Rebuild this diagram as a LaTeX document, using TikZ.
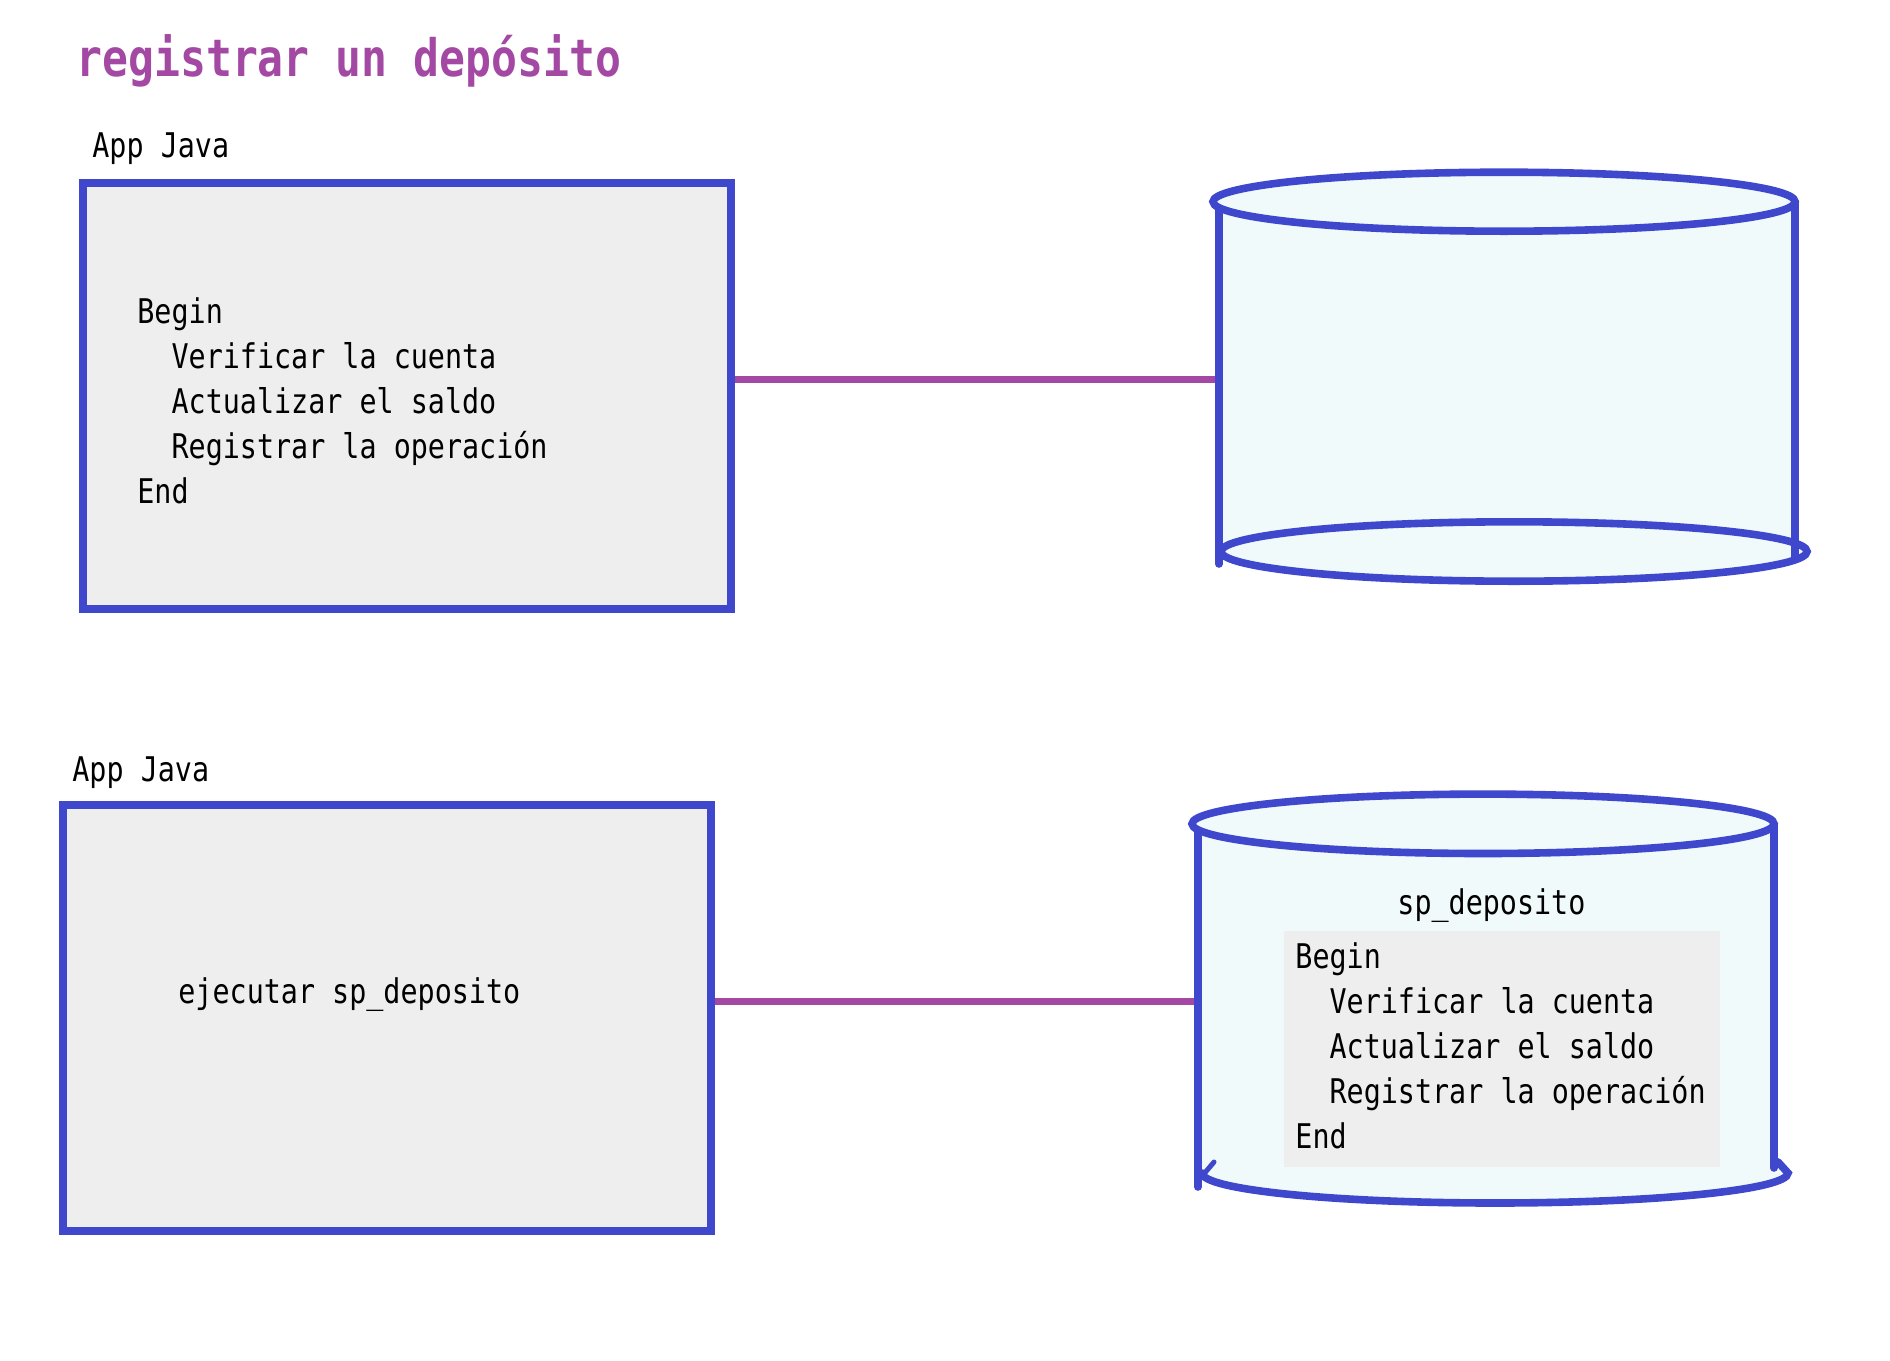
\documentclass[tikz,border=0pt]{standalone}
\usepackage{fontspec}
\newfontfamily\codefont[FakeStretch=0.835]{DejaVu Sans Mono}
\definecolor{boxblue}{RGB}{63,72,204}
\definecolor{linkpurple}{RGB}{163,73,164}
\definecolor{boxgray}{RGB}{238,238,238}
\definecolor{dbcyan}{RGB}{240,250,251}
\newcommand\ind{\hphantom{xx}}

\begin{document}
\begin{tikzpicture}[x=0.5pt,y=-0.5pt,
    appbox/.style={draw=boxblue,fill=boxgray,line width=4pt,minimum width=324pt,minimum height=213pt,inner sep=0pt},
    link/.style={draw=linkpurple,line width=3.5pt},
    dbline/.style={draw=boxblue,line width=3.8pt,line cap=round},
    dbfill/.style={fill=dbcyan},
    code/.style={font=\codefont\fontsize{17}{22.5}\selectfont,anchor=base west,inner sep=0pt},
    titletext/.style={font=\codefont\fontsize{25.8}{30}\selectfont\bfseries,text=linkpurple,anchor=base west,inner sep=0pt}]

    \useasboundingbox (0,0) rectangle (1890,1360);

    % titulo
    \node[titletext] (title) at (76,76) {registrar un depósito};

    % arriba: la app hace todo
    \node[code]   (appA) at (92,157) {App Java};
    \node[appbox] (boxA) at (407,396) {};
    \node[code]   (codeA) at (137,323) {\begin{tabular}[t]{@{}l@{}}Begin\\ \ind Verificar la cuenta\\ \ind Actualizar el saldo\\ \ind Registrar la operación\\ End\end{tabular}};

    % abajo: la app llama al procedimiento
    \node[code]   (appB) at (72,781) {App Java};
    \node[appbox] (boxB) at (387,1018) {};
    \node[code]   (callB) at (178,1003) {ejecutar sp\_deposito};

    % conexiones
    \coordinate (dbAw) at (1219,379);
    \coordinate (dbBw) at (1198,1001);
    \draw[link] (dbAw -| boxA.east) -- (dbAw);
    \draw[link] (dbBw -| boxB.east) -- (dbBw);

    % base de datos 1
    \fill[dbfill] (1219,201.7) rectangle (1795,551.5);
    \fill[dbfill] (1514,551.5) ellipse [x radius=293, y radius=29.7];
    \draw[dbline] (1219,201.7) -- (1219,564);
    \draw[dbline] (1795,201.7) -- (1795,557);
    \draw[dbline,dbfill] (1504,201.7) ellipse [x radius=291, y radius=29.5];
    \draw[dbline] (1514,551.5) ellipse [x radius=293, y radius=29.7];

    % base de datos 2
    \fill[dbfill] (1198,823.8) rectangle (1774,1173);
    \fill[dbfill] (1495,1173) ellipse [x radius=293, y radius=30];
    \draw[dbline] (1198,823.8) -- (1198,1187);
    \draw[dbline] (1774,823.8) -- (1774,1168);
    \draw[dbline,dbfill] (1483,823.8) ellipse [x radius=291, y radius=29.7];
    \draw[dbline] (1202,1173) arc [start angle=180, end angle=0, x radius=293, y radius=30] -- (1778,1162);
    \draw[dbline,line width=2.5pt] (1203,1175) -- (1214,1162);

    \node[code] (spName) at (1397,914) {sp\_deposito};
    \fill[boxgray] (1283.7,931.1) rectangle (1719.5,1166.6);
    \node[code] (codeB) at (1295,968) {\begin{tabular}[t]{@{}l@{}}Begin\\ \ind Verificar la cuenta\\ \ind Actualizar el saldo\\ \ind Registrar la operación\\ End\end{tabular}};

\end{tikzpicture}
\end{document}
